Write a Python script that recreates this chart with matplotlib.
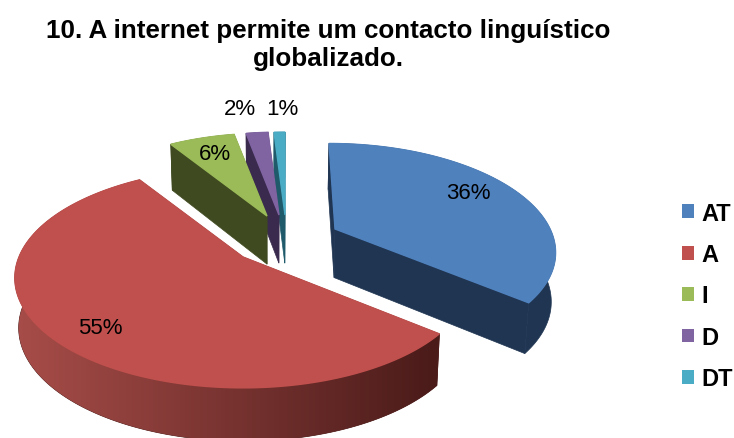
import numpy as np
import matplotlib
matplotlib.use("Agg")
import matplotlib.pyplot as plt
from matplotlib.patches import Polygon, Patch
from matplotlib.colors import LinearSegmentedColormap

# ---- data ----
categories = ["AT", "A", "I", "D", "DT"]
percent = [36, 55, 6, 2, 1]
title = "10. A internet permite um contacto linguístico\nglobalizado."

# ---- style / layout ----
top_colors = ["#4F81BD", "#C0504D", "#9BBB59", "#8064A2", "#4BACC6"]
dark_colors = ["#1F3552", "#4C1C1A", "#3F4A20", "#3A2B4E", "#1F5A6B"]
apex = [(335, 230), (243, 258), (267, 217), (279, 216), (285, 216)]
lean = [0.07, 0.0, 0.0, 0.0, 0.0]
size = [0.96, 1.0, 0.93, 0.93, 0.93]
label_xy = [(468, 194), (100, 329), (215, 155), (240, 110), (282, 110)]
draw_order = [0, 4, 3, 2, 1]
RADIUS, SQUASH, PERSP = 224.0, 106.0, 0.19

fig = plt.figure(figsize=(7.34, 4.39), dpi=100, facecolor="white")
ax = fig.add_axes([0, 0, 1, 1])


def project(theta, centre, shear, scale):
    u, v = np.sin(theta), np.cos(theta)
    w = 1 + PERSP * v
    dy = -v * SQUASH * scale / w
    x = centre[0] + u * RADIUS * scale / w + shear * dy
    return x, centre[1] + dy


def lower(x, y):
    return 270 + (np.asarray(x) - 270) * 0.985, np.asarray(y) + 46 + (np.asarray(y) - 145) * 0.03


def face(xs, ys, colour, z, lw=0.0):
    p = Polygon(np.column_stack([xs, ys]), closed=True, fc=colour,
                ec=colour if lw else "none", lw=lw, zorder=z)
    ax.add_patch(p)
    return p


wall_cmap = LinearSegmentedColormap.from_list("wall", ["#A84D49", "#4A1B19"])
angles = np.cumsum([0] + percent) / sum(percent) * 2 * np.pi
for z, i in enumerate(draw_order):
    base = z * 10
    th = np.linspace(angles[i], angles[i + 1], max(8, int(percent[i] * 5)))
    rx, ry = project(th, apex[i], lean[i], size[i])
    bx, by = lower(rx, ry)
    ax_, ay_ = apex[i]
    abx, aby = lower(ax_, ay_)
    # the two cut faces
    face([ax_, rx[0], bx[0], abx], [ay_, ry[0], by[0], aby], dark_colors[i], base, lw=0.5)
    face([ax_, rx[-1], bx[-1], abx], [ay_, ry[-1], by[-1], aby], dark_colors[i], base + 1, lw=0.5)
    # outer wall
    wall = face(np.r_[rx, bx[::-1]], np.r_[ry, by[::-1]], dark_colors[i], base + 2, lw=0.5)
    if i == 1:
        im = ax.imshow(np.linspace(0, 1, 256)[None, :], cmap=wall_cmap, aspect="auto",
                       extent=(13, 437, 460, 200), zorder=base + 2.5, interpolation="bilinear")
        im.set_clip_path(wall)
    # top surface
    face(np.r_[ax_, rx], np.r_[ay_, ry], top_colors[i], base + 3, lw=1.0)

ax.set_xlim(0, 734)
ax.set_ylim(439, 0)
ax.axis("off")

for (x, y), p in zip(label_xy, percent):
    ax.text(x, y, f"{p}%", ha="center", va="center", fontsize=16, color="black",
            family="Liberation Sans", zorder=100)

fig.text(328 / 734, 1 - 45 / 439, title, ha="center", va="center", fontsize=18.7,
         fontweight="bold", family="Liberation Sans", linespacing=1.22)

handles = [Patch(fc=c, ec="none") for c in top_colors]
fig.legend(handles, categories, loc="center left", bbox_to_anchor=(682 / 734, 1 - 297 / 439),
           frameon=False, handlelength=0.52, handleheight=0.52, handletextpad=0.32,
           labelspacing=0.78, borderpad=0, borderaxespad=0,
           prop={"family": "Liberation Sans", "weight": "bold", "size": 17})

fig.savefig("out.png", dpi=100, facecolor="white")
